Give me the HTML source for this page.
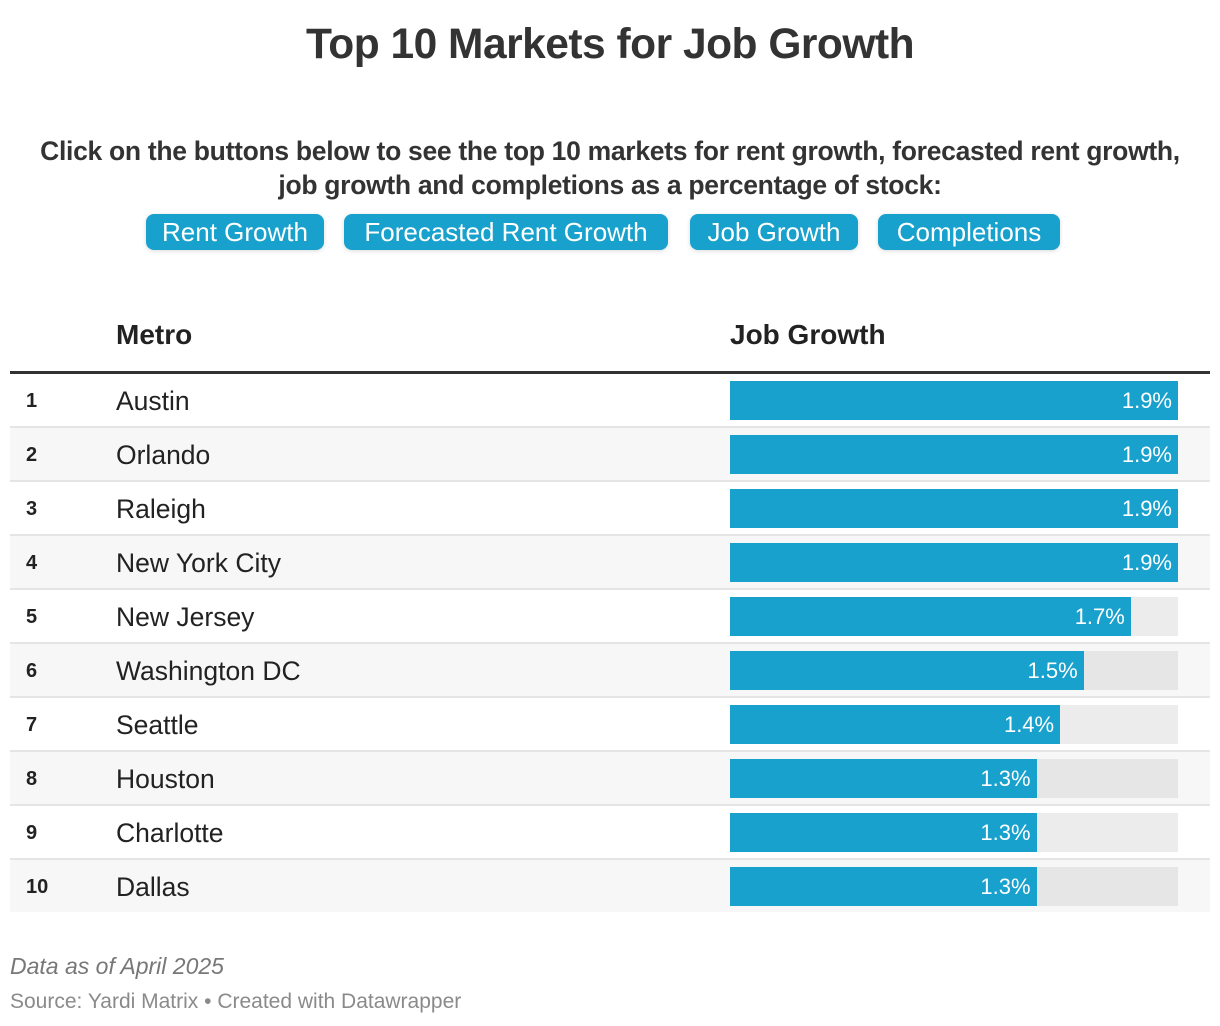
<!DOCTYPE html>
<html><head><meta charset="utf-8">
<style>
body{margin:0;width:1220px;height:1026px;background:#fff;font-family:"Liberation Sans",sans-serif;color:#222;position:relative;overflow:hidden}
.abs{position:absolute}
h1{position:absolute;top:21px;left:0;width:1220px;text-align:center;margin:0;font-size:42.5px;font-weight:bold;color:#333;letter-spacing:-0.5px}
.intro{top:134px;left:0;width:1220px;text-align:center;font-size:26.5px;font-weight:bold;line-height:34px;color:#333;letter-spacing:-0.3px}
.btn{position:absolute;top:214px;height:36px;background:#18a1cd;color:#fff;border-radius:8px;font-size:26px;line-height:36px;text-align:center;box-shadow:0 1px 4px rgba(0,0,0,0.15)}
.hdr{top:319px;font-size:28px;font-weight:bold;color:#222}
.row{position:absolute;left:10px;width:1200px;height:52px}
.rank{position:absolute;left:16px;font-size:20px;font-weight:bold;line-height:54px}
.name{position:absolute;left:106px;font-size:26.5px;line-height:54px}
.track{position:absolute;left:720px;top:7px;width:448px;height:39px}
.bar{position:absolute;left:0;top:0;height:39px;background:#18a1cd}
.val{position:absolute;top:0;line-height:39px;color:#fff;font-size:22px;text-align:right}
</style></head><body>
<h1>Top 10 Markets for Job Growth</h1>
<div class="abs intro">Click on the buttons below to see the top 10 markets for rent growth, forecasted rent growth,<br>job growth and completions as a percentage of stock:</div>
<div class="btn" style="left:146px;width:178px">Rent Growth</div>
<div class="btn" style="left:344px;width:324px">Forecasted Rent Growth</div>
<div class="btn" style="left:690px;width:168px">Job Growth</div>
<div class="btn" style="left:878px;width:182px">Completions</div>
<div class="abs hdr" style="left:116px">Metro</div>
<div class="abs hdr" style="left:730px">Job Growth</div>
<div class="abs" style="left:10px;top:371px;width:1200px;height:3px;background:#333"></div>
<div id="rows"></div>
<div class="abs" style="left:10px;top:953px;font-size:23px;font-style:italic;color:#777">Data as of April 2025</div>
<div class="abs" style="left:10px;top:990px;font-size:21px;color:#8a8a8a">Source: Yardi Matrix • Created with Datawrapper</div>
<script>
const metros=["Austin","Orlando","Raleigh","New York City","New Jersey","Washington DC","Seattle","Houston","Charlotte","Dallas"];
const jobGrowth=[1.9,1.9,1.9,1.9,1.7,1.5,1.4,1.3,1.3,1.3];
const maxVal=1.9;
const cont=document.getElementById('rows');
const x=v=>v/maxVal*448;
metros.forEach((m,i)=>{
  const top=374+i*54;
  const r=document.createElement('div');r.className='row';
  
  
  r.style.top=top+'px';r.style.background=i%2?'#f7f7f7':'#fff';
  if(i>0){r.style.borderTop='2px solid #e5e5e5';r.style.top=(top-2)+'px';}
  const rk=document.createElement('div');rk.className='rank';rk.textContent=i+1;
  
  
  const nm=document.createElement('div');nm.className='name';nm.textContent=m;
  
  
  const tr=document.createElement('div');tr.className='track';tr.style.background=i%2?'#e6e6e6':'#ececec';
  
  
  const b=document.createElement('div');b.className='bar';b.style.width=x(jobGrowth[i])+'px';
  
  
  const v=document.createElement('div');v.className='val';v.textContent=jobGrowth[i].toFixed(1)+'%';
  v.style.right=(448-x(jobGrowth[i])+6)+'px';
  
  
  tr.appendChild(b);tr.appendChild(v);
  r.appendChild(rk);r.appendChild(nm);r.appendChild(tr);
  cont.appendChild(r);
});
</script>
</body></html>
